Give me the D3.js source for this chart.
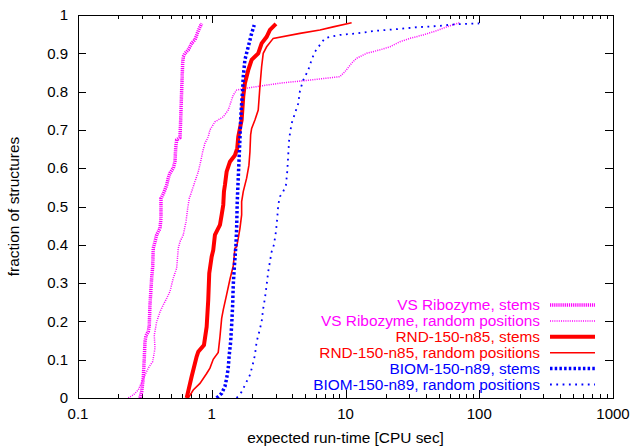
<!DOCTYPE html>
<html>
<head>
<meta charset="utf-8">
<script src="https://cdn.jsdelivr.net/npm/d3@7/dist/d3.min.js"></script>
<style>
  body { margin: 0; background: #fff; }
  text { font-family: "Liberation Sans", Arial, sans-serif; }
</style>
</head>
<body>
<div id="chart"></div>
<script>
// expected run-time [CPU sec] vs fraction of structures
var vsStems = [[0.2905,0],[0.2992,0.016],[0.3076,0.052],[0.313,0.104],[0.3168,0.147],[0.3223,0.163],[0.3353,0.173],[0.3411,0.19],[0.3452,0.243],[0.3554,0.313],[0.3617,0.343],[0.3654,0.391],[0.3763,0.408],[0.3875,0.426],[0.4101,0.443],[0.4172,0.469],[0.4172,0.521],[0.4296,0.53],[0.4416,0.539],[0.4602,0.556],[0.473,0.574],[0.487,0.587],[0.5157,0.6],[0.5309,0.617],[0.5373,0.652],[0.5467,0.674],[0.5786,0.68],[0.5857,0.726],[0.5957,0.804],[0.6061,0.874],[0.6124,0.891],[0.6306,0.9],[0.6674,0.909],[0.7075,0.926],[0.7488,0.935],[0.7793,0.952],[0.8066,0.965],[0.8404,0.978]];

var vsRandom = [[0.2376,0],[0.2591,0.008],[0.2823,0.021],[0.3076,0.051],[0.3353,0.078],[0.3617,0.095],[0.3763,0.13],[0.3718,0.164],[0.3875,0.199],[0.4101,0.225],[0.4342,0.243],[0.4602,0.26],[0.487,0.278],[0.5157,0.313],[0.5467,0.339],[0.5619,0.391],[0.5786,0.408],[0.6124,0.426],[0.6415,0.46],[0.6607,0.495],[0.679,0.521],[0.7075,0.539],[0.7488,0.565],[0.7931,0.591],[0.826,0.617],[0.8551,0.643],[0.8895,0.665],[0.9415,0.682],[0.9694,0.7],[1.0566,0.721],[1.2186,0.734],[1.3283,0.752],[1.4479,0.791],[1.5348,0.804],[1.8231,0.809],[2.573,0.817],[3.422,0.823],[5.42,0.83],[9.08,0.839],[9.9,0.852],[11.1,0.874],[12.1,0.887],[14.4,0.9],[18.1,0.909],[21.5,0.917],[25.5,0.93],[30.3,0.939],[38.1,0.948],[48.0,0.959],[57.0,0.969],[71.6,0.98]];

var rndStems = [[0.6493,0],[0.7075,0.056],[0.7711,0.108],[0.7931,0.121],[0.8745,0.138],[0.916,0.186],[0.9415,0.256],[0.9579,0.326],[0.9984,0.369],[1.026,0.386],[1.0566,0.426],[1.152,0.452],[1.186,0.478],[1.219,0.504],[1.234,0.539],[1.255,0.556],[1.292,0.591],[1.368,0.617],[1.491,0.634],[1.551,0.652],[1.578,0.682],[1.673,0.726],[1.72,0.787],[1.77,0.822],[1.874,0.856],[1.987,0.883],[2.226,0.9],[2.36,0.926],[2.573,0.943],[2.723,0.961],[3.019,0.977]];

var rndRandom = [[0.6674,0],[0.7271,0.021],[0.8162,0.038],[0.916,0.064],[0.9694,0.078],[1.026,0.101],[1.118,0.119],[1.152,0.16],[1.186,0.208],[1.219,0.23],[1.292,0.27],[1.368,0.31],[1.448,0.345],[1.491,0.391],[1.535,0.395],[1.578,0.417],[1.625,0.443],[1.673,0.478],[1.673,0.513],[1.72,0.539],[1.823,0.574],[1.897,0.608],[1.93,0.643],[1.953,0.687],[1.987,0.704],[2.103,0.726],[2.226,0.752],[2.292,0.813],[2.36,0.865],[2.426,0.9],[2.573,0.917],[2.882,0.939],[4.564,0.952],[6.44,0.961],[8.09,0.969],[11.11,0.98]];

var biomStems = [[1.088,0],[1.186,0.012],[1.255,0.03],[1.292,0.051],[1.328,0.078],[1.351,0.112],[1.385,0.147],[1.409,0.191],[1.433,0.243],[1.448,0.295],[1.473,0.339],[1.517,0.4],[1.535,0.443],[1.551,0.513],[1.578,0.574],[1.605,0.634],[1.625,0.678],[1.644,0.726],[1.673,0.769],[1.702,0.804],[1.72,0.839],[1.77,0.883],[1.874,0.917],[1.987,0.952],[2.078,0.974]];

var biomRandom = [[1.535,0],[1.673,0.016],[1.823,0.043],[1.93,0.06],[2.022,0.086],[2.103,0.112],[2.166,0.147],[2.265,0.173],[2.36,0.199],[2.426,0.234],[2.498,0.26],[2.573,0.295],[2.645,0.33],[2.723,0.356],[2.804,0.382],[2.917,0.4],[3.019,0.434],[3.087,0.469],[3.141,0.504],[3.234,0.526],[3.422,0.539],[3.586,0.556],[3.667,0.591],[3.731,0.634],[3.795,0.678],[3.956,0.717],[4.187,0.743],[4.432,0.769],[4.564,0.802],[4.83,0.83],[5.263,0.856],[5.58,0.883],[5.906,0.904],[6.44,0.922],[7.015,0.939],[7.644,0.943],[9.08,0.948],[12.1,0.952],[17.1,0.959],[24.1,0.963],[34.0,0.968],[48.0,0.971],[67.7,0.976],[100,0.978]];

var seriesNames = [
  "VS Ribozyme, stems",
  "VS Ribozyme, random positions",
  "RND-150-n85, stems",
  "RND-150-n85, random positions",
  "BIOM-150-n89, stems",
  "BIOM-150-n89, random positions"
];
var xTickValues = [0.1, 1, 10, 100, 1000];
var yTickValues = [0, 0.1, 0.2, 0.3, 0.4, 0.5, 0.6, 0.7, 0.8, 0.9, 1];

function createRuntimeChart() {
  var w = 632;
  var h = 447;
  var margin = { top: 15, bottom: 49, left: 78, right: 19 };

  var svg = d3.select("#chart").append("svg")
    .attr("width", w)
    .attr("height", h);

  var x = d3.scaleLog()
    .domain([0.1, 1000])
    .range([margin.left, w - margin.right]);

  var y = d3.scaleLinear()
    .domain([0, 1])
    .range([h - margin.bottom, margin.top]);

  var x0 = margin.left, x1 = w - margin.right;
  var y0 = h - margin.bottom, y1 = margin.top;

  // line styles, same order as seriesNames
  var styles = [
    { color: "#ff00ff", width: 3.5, dash: "1.2,0.9" },
    { color: "#ff00ff", width: 1.5, dash: "1,1.2" },
    { color: "#ff0000", width: 4, dash: null },
    { color: "#ff0000", width: 1.6, dash: null },
    { color: "#0000ff", width: 3.5, dash: "2.5,2.2" },
    { color: "#0000ff", width: 1.8, dash: "1.8,4.5" }
  ];
  var allSeries = [vsStems, vsRandom, rndStems, rndRandom, biomStems, biomRandom];

  // ticks on all four sides, pointing inward
  var minor = [];
  [0.1, 1, 10, 100].forEach(function(d) {
    for (var k = 2; k <= 9; k++) minor.push(k * d);
  });
  var ticks = svg.append("g").attr("stroke", "#000").attr("stroke-width", 1);
  minor.forEach(function(v) {
    var px = Math.round(x(v)) + 0.5;
    ticks.append("line").attr("x1", px).attr("x2", px).attr("y1", y0).attr("y2", y0 - 4);
    ticks.append("line").attr("x1", px).attr("x2", px).attr("y1", y1).attr("y2", y1 + 4);
  });
  xTickValues.forEach(function(v) {
    var px = Math.round(x(v)) + 0.5;
    ticks.append("line").attr("x1", px).attr("x2", px).attr("y1", y0).attr("y2", y0 - 8);
    ticks.append("line").attr("x1", px).attr("x2", px).attr("y1", y1).attr("y2", y1 + 8);
  });
  yTickValues.forEach(function(v) {
    var py = Math.round(y(v)) + 0.5;
    ticks.append("line").attr("x1", x0).attr("x2", x0 + 8).attr("y1", py).attr("y2", py);
    ticks.append("line").attr("x1", x1).attr("x2", x1 - 8).attr("y1", py).attr("y2", py);
  });

  // tick labels
  svg.append("g").selectAll("text")
    .data(yTickValues)
    .enter().append("text")
    .attr("x", x0 - 10)
    .attr("y", function(d) { return y(d); })
    .attr("dy", "0.35em")
    .attr("text-anchor", "end")
    .style("font-size", "15px")
    .text(function(d) { return d3.format("~g")(d); });

  svg.append("g").selectAll("text")
    .data(xTickValues)
    .enter().append("text")
    .attr("x", function(d) { return x(d); })
    .attr("y", y0 + 21)
    .attr("text-anchor", "middle")
    .style("font-size", "15px")
    .text(function(d) { return d3.format("~g")(d); });

  // axis titles
  svg.append("text")
    .attr("x", (x0 + x1) / 2)
    .attr("y", 443)
    .attr("text-anchor", "middle")
    .style("font-size", "15.4px")
    .text("expected run-time [CPU sec]");

  svg.append("text")
    .attr("transform", "translate(19," + (y0 + y1) / 2 + ") rotate(-90)")
    .attr("text-anchor", "middle")
    .style("font-size", "15.4px")
    .text("fraction of structures");

  // curves
  var line = d3.line()
    .x(function(d) { return x(d[0]); })
    .y(function(d) { return y(d[1]); });

  allSeries.forEach(function(data, i) {
    svg.append("path")
      .datum(data)
      .attr("fill", "none")
      .attr("stroke", styles[i].color)
      .attr("stroke-width", styles[i].width)
      .attr("stroke-dasharray", styles[i].dash)
      .attr("d", line);
  });

  // legend, bottom right
  var legend = svg.append("g");
  seriesNames.forEach(function(name, i) {
    var ly = 305 + i * 15.9;
    legend.append("text")
      .attr("x", 540)
      .attr("y", ly)
      .attr("dy", "0.35em")
      .attr("text-anchor", "end")
      .attr("fill", styles[i].color)
      .style("font-size", "15.4px")
      .text(name);
    legend.append("line")
      .attr("x1", 550).attr("x2", 595)
      .attr("y1", ly).attr("y2", ly)
      .attr("stroke", styles[i].color)
      .attr("stroke-width", styles[i].width)
      .attr("stroke-dasharray", styles[i].dash);
  });

  // border
  svg.append("rect")
    .attr("x", x0 + 0.5)
    .attr("y", y1 + 0.5)
    .attr("width", x1 - x0)
    .attr("height", y0 - y1)
    .attr("fill", "none")
    .attr("stroke", "#000")
    .attr("stroke-width", 1);
}

createRuntimeChart();
</script>
</body>
</html>
